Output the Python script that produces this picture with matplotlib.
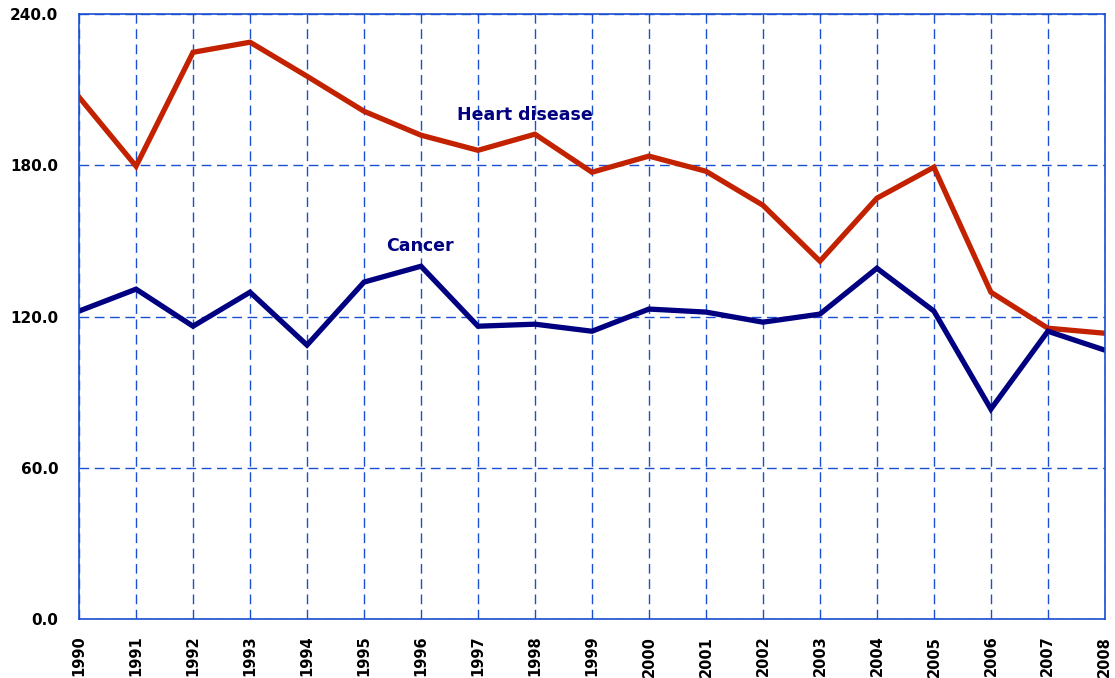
import matplotlib.pyplot as plt

years = list(range(1990, 2009))
heart = [207.1, 179.7, 224.9, 228.9, 215.4, 201.5, 192.0, 186.0, 192.4, 177.3,
         183.7, 177.7, 164.2, 142.0, 167.0, 179.3, 129.7, 115.4, 113.4]
cancer = [122.2, 130.9, 116.2, 129.7, 108.7, 133.7, 140.0, 116.2, 117.0, 114.2,
          123.0, 121.8, 117.8, 121.0, 139.2, 122.2, 83.3, 114.2, 106.7]
yticks = [0, 60, 120, 180, 240]

blue = "#1a4fcf"
fig = plt.figure(figsize=(11.15, 6.78), dpi=100)
ax = fig.add_axes([0.0709, 0.087, 0.92, 0.892])

ax.plot(years, heart, color="#c22200", lw=3.8, solid_joinstyle="miter")
ax.plot(years, cancer, color="#000080", lw=3.8, solid_joinstyle="miter")

ax.set_xlim(1990, 2008)
ax.set_ylim(0, 240)
ax.set_xticks(years)
ax.set_xticklabels([str(y) for y in years], rotation=90, fontsize=10.5, fontweight="bold")
ax.set_yticks(yticks)
ax.set_yticklabels([f"{v:.1f}" for v in yticks], fontsize=11, fontweight="bold")
ax.tick_params(axis="x", length=0, pad=12)
ax.tick_params(axis="y", length=0, pad=15)
ax.grid(True, color=blue, ls=(0, (7, 4)), lw=1.0)
for s in ax.spines.values():
    s.set_color(blue)
    s.set_linewidth(1.2)

ax.text(1997.82, 199.9, "Heart disease", color="#000080", fontsize=12.5,
        fontweight="bold", ha="center", va="center")
ax.text(1995.98, 148.0, "Cancer", color="#000080", fontsize=12.5,
        fontweight="bold", ha="center", va="center")

fig.savefig("out.png")
